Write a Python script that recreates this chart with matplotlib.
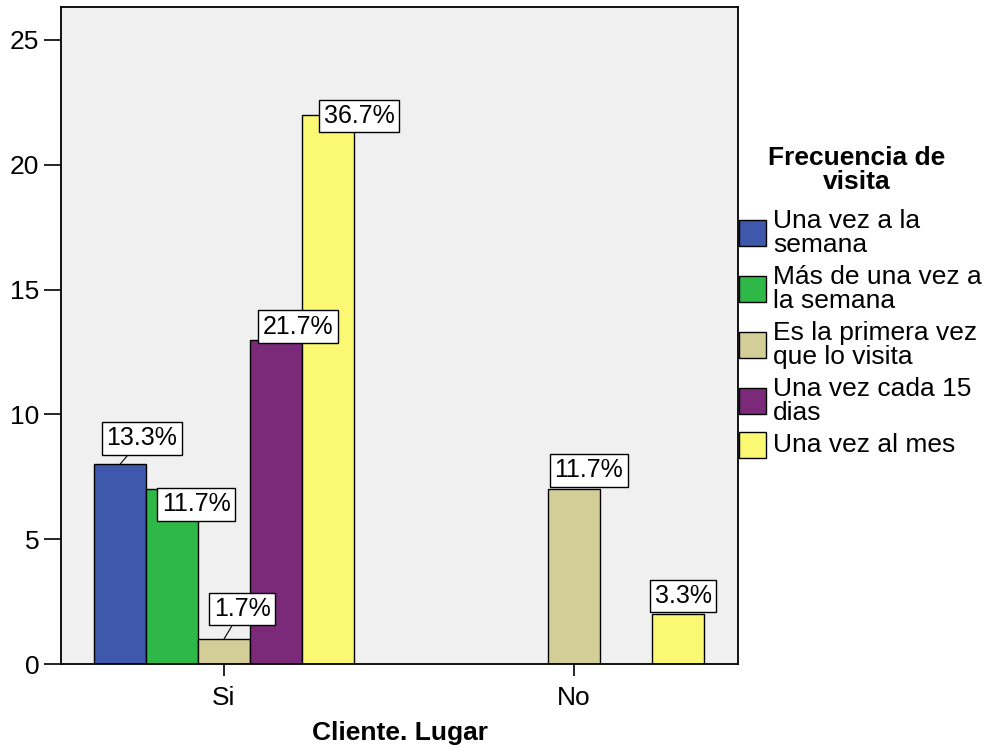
import numpy as np
import matplotlib.pyplot as plt
from matplotlib.patches import Rectangle

plt.rcParams['font.family'] = ['Liberation Sans', 'DejaVu Sans']

# data
groups = ['Si', 'No']
series = ['Una vez a la\nsemana', 'Más de una vez a\nla semana', 'Es la primera vez\nque lo visita',
          'Una vez cada 15\ndias', 'Una vez al mes']
counts = np.array([
    [8, 7, 1, 13, 22],   # Si
    [0, 0, 7, 0, 2],     # No
])
colors = ['#3E58AC', '#2EB848', '#D3CE97', '#7B2A7A', '#FBF873']

# label offsets in pixels (dx, dy up) for each drawn bar, SPSS-style placement
label_offsets = {
    (0, 0): (22, 26), (0, 1): (24, -15), (0, 2): (18, 30), (0, 3): (22, 13), (0, 4): (31, -1),
    (1, 2): (15, 19), (1, 4): (5, 18),
}

W, H = 988, 748
fig = plt.figure(figsize=(W / 100, H / 100), dpi=100)
ax = fig.add_axes([61 / W, 1 - 664 / H, (738 - 61) / W, (664 - 7) / H])
ax.set_facecolor('#F0F0F0')

total = counts.sum()
bw = 52 / 350
xg = np.arange(len(groups))
pt = 72 / 100  # px -> points

for j, name in enumerate(series):
    for g in range(len(groups)):
        v = counts[g, j]
        if v == 0:
            continue
        x = xg[g] + (j - 2) * bw
        ax.bar(x, v, width=bw, color=colors[j], edgecolor='black', linewidth=1.0, zorder=2)
        dx, dy = label_offsets[(g, j)]
        arrow = dict(arrowstyle='-', color='black', lw=0.8, shrinkA=0, shrinkB=0) if dy > 20 else None
        ax.annotate(f'{v / total * 100:.1f}%', xy=(x, v), xytext=(dx * pt, dy * pt),
                    textcoords='offset points', ha='center', va='center', fontsize=18,
                    bbox=dict(boxstyle='square,pad=0.17', fc='white', ec='black', lw=1.0),
                    arrowprops=arrow, zorder=5)

ax.set_xlim((61 - 224) / 350, (738 - 224) / 350)
ax.set_ylim(0, (664 - 7) / 24.96)
ax.set_xticks(xg)
ax.set_xticklabels(groups, fontsize=19)
ax.set_yticks(np.arange(0, 26, 5))
ax.tick_params(axis='y', labelsize=19, length=12.5, width=1.2, pad=3)
ax.tick_params(axis='x', length=8.5, width=1.2, pad=7)
for s in ax.spines.values():
    s.set_linewidth(1.3)
ax.set_xlabel('Cliente. Lugar', fontsize=19, fontweight='bold', labelpad=8)

# legend drawn by hand to mimic SPSS layout
fig.text(857 / W, 1 - 170 / H, 'Frecuencia de\nvisita', ha='center', va='center',
         fontsize=19, fontweight='bold', linespacing=1.0)
legend_y = [233, 289, 345, 401, 445]
for name, c, yc in zip(series, colors, legend_y):
    fig.add_artist(Rectangle((739 / W, 1 - (yc + 13) / H), 27 / W, 26 / H,
                             transform=fig.transFigure, fc=c, ec='black', lw=1.0))
    fig.text(773 / W, 1 - yc / H, name, ha='left', va='center', fontsize=19, linespacing=1.03)

fig.savefig('out.png', dpi=100)
plt.close(fig)
